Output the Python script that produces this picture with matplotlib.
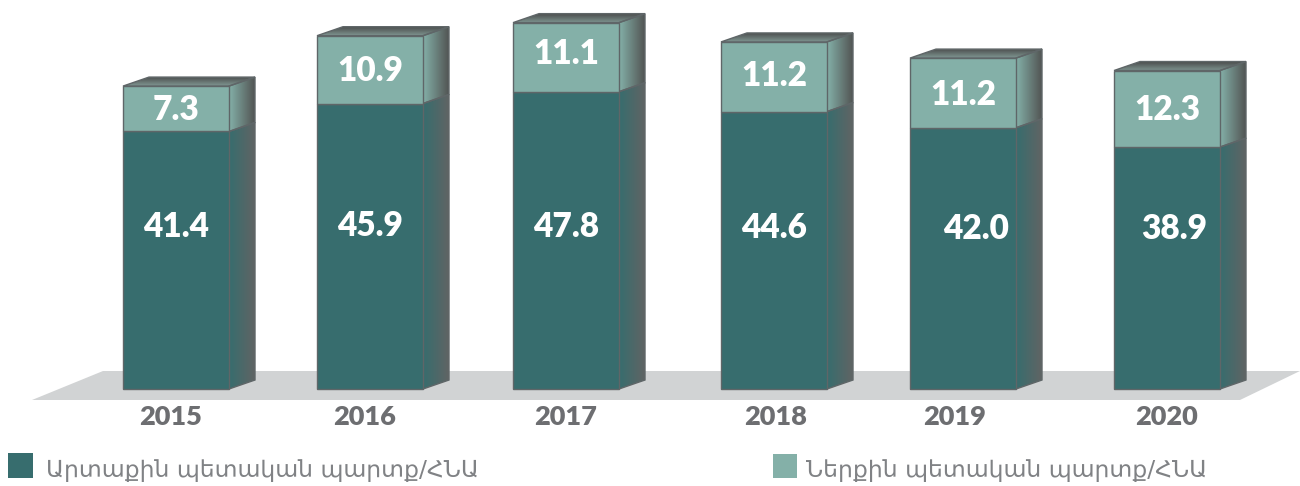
import matplotlib
matplotlib.use('Agg')
import matplotlib.pyplot as plt
import numpy as np
from matplotlib.colors import LinearSegmentedColormap
from matplotlib.patches import Polygon, Rectangle

years = ['2015', '2016', '2017', '2018', '2019', '2020']
external_debt = [41.4, 45.9, 47.8, 44.6, 42.0, 38.9]
domestic_debt = [7.3, 10.9, 11.1, 11.2, 11.2, 12.3]
external_label = 'Արտաքին պետական պարտք/ՀՆԱ'
domestic_label = 'Ներքին պետական պարտք/ՀՆԱ'

# layout, in pixels of the 1300x486 picture
W, H = 1300, 486
BASE = 389       # pixel row of value 0
SCALE = 6.22     # pixels per unit
bar_left = [123, 317, 513, 721, 910, 1114]
bar_w = 106
ext_dx = [0, 0, 0, 0, 13, 7]
ext_label_y = [227, 226, 227, 228, 229, 229]
dom_label_y = [110, 71, 54, 76, 95, 110]
year_x = [171, 365, 566, 776, 955, 1167]
DX, DY = 26, 9

DARK = '#376d6e'
LIGHT = '#84b0a8'
EDGE = '#5f6668'
GREY = '#6d6e71'
FLOOR = '#d1d3d4'


def py(p):
    return (BASE - p) / SCALE


def grad_poly(ax, pts, c1, c2, vertical=False):
    xs = [p[0] for p in pts]
    ys = [p[1] for p in pts]
    cmap = LinearSegmentedColormap.from_list('g', [c1, c2])
    g = np.linspace(0, 1, 64)
    g = g[:, None] if vertical else g[None, :]
    im = ax.imshow(g, cmap=cmap, aspect='auto', origin='lower', zorder=2,
                   extent=(min(xs), max(xs), min(ys), max(ys)))
    patch = Polygon(pts, closed=True, fc='none', ec=EDGE, lw=1, zorder=3)
    ax.add_patch(patch)
    im.set_clip_path(patch)


fig = plt.figure(figsize=(W / 100, H / 100), dpi=100)
ax = fig.add_axes([0, 0, 1, 1])
ax.axis('off')

ax.add_patch(Polygon([(32, py(400)), (103, py(371)), (1300, py(371)), (1240, py(400))],
                     closed=True, fc=FLOOR, ec='none', zorder=1))

dy = DY / SCALE
centers = [l + bar_w / 2 for l in bar_left]
ax.bar(centers, external_debt, bar_w, color=DARK, edgecolor=EDGE, lw=1, zorder=4)
ax.bar(centers, domestic_debt, bar_w, bottom=external_debt, color=LIGHT, edgecolor=EDGE, lw=1, zorder=4)

for i in range(len(years)):
    r = bar_left[i] + bar_w
    e = external_debt[i]
    t = e + domestic_debt[i]
    grad_poly(ax, [(r, 0), (r + DX, dy), (r + DX, e + dy), (r, e)], DARK, '#606464')
    grad_poly(ax, [(r, e), (r + DX, e + dy), (r + DX, t + dy), (r, t)], LIGHT, '#525554')
    grad_poly(ax, [(r - bar_w, t), (r, t), (r + DX, t + dy), (r - bar_w + DX, t + dy)],
              '#7f9692', '#4e5150', vertical=True)

    ax.text(centers[i] + ext_dx[i], py(ext_label_y[i]), f'{e:.1f}', color='white', family='Lato',
            weight='heavy', fontsize=24, ha='center', va='center', zorder=5)
    ax.text(centers[i], py(dom_label_y[i]), f'{domestic_debt[i]:.1f}', color='white',
            family='Lato', weight='heavy', fontsize=24, ha='center', va='center', zorder=5)
    ax.text(year_x[i], py(417), years[i], color=GREY, family='Lato', weight='heavy',
            fontsize=19.5, ha='center', va='center', zorder=5)

# legend
ax.add_patch(Rectangle((8, py(478)), 25, 25 / SCALE, fc=DARK, ec='none', zorder=5))
ax.add_patch(Rectangle((773, py(478)), 24, 24 / SCALE, fc=LIGHT, ec='none', zorder=5))
ax.text(46, py(470), external_label, color='#808285', fontsize=16.9, family='DejaVu Sans',
        ha='left', va='center', zorder=5)
ax.text(806, py(470), domestic_label, color='#808285', fontsize=16.9, family='DejaVu Sans',
        ha='left', va='center', zorder=5)

ax.set_xlim(0, W)
ax.set_ylim(py(H), py(0))
fig.savefig('out.png', dpi=100)
